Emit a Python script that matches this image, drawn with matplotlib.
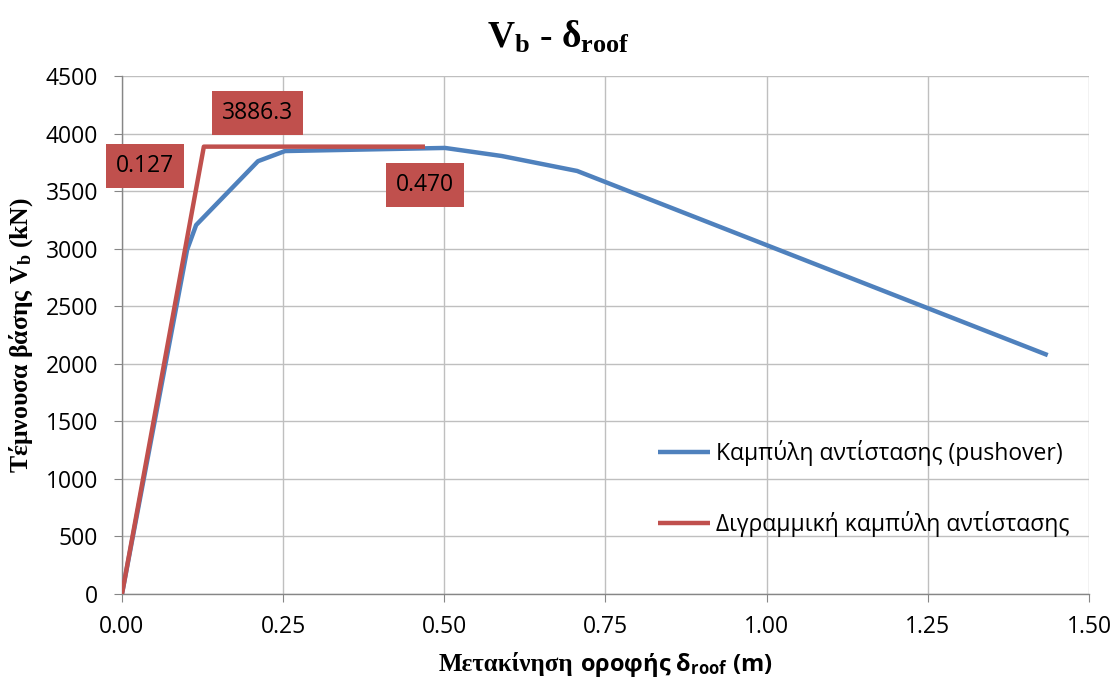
import numpy as np
import matplotlib.pyplot as plt

# pushover curve
pushDisp = [0.0, 0.101, 0.115, 0.211, 0.253, 0.501, 0.589, 0.706, 1.436]
pushShear = [0, 2990, 3205, 3760, 3848, 3875, 3805, 3675, 2075]

# bilinear idealisation
biDisp = [0.0, 0.127, 0.470]
biShear = [0, 3886.3, 3886.3]

labelName = ["Καμπύλη αντίστασης (pushover)", "Διγραμμική καμπύλη αντίστασης"]
xTicks = [0.0, 0.25, 0.5, 0.75, 1.0, 1.25, 1.5]
yTicks = np.arange(0, 4501, 500)

plt.rcParams['font.family'] = ['Open Sans', 'DejaVu Sans']
plt.rcParams['mathtext.fontset'] = 'custom'
plt.rcParams['mathtext.rm'] = 'Liberation Serif:bold'
plt.rcParams['mathtext.bf'] = 'Liberation Serif:bold'
plt.rcParams['mathtext.it'] = 'Liberation Serif:italic:bold'
plt.rcParams['mathtext.sf'] = 'Open Sans:bold'

blue = '#4F81BD'
red = '#C0504D'
gridCol = '#BFBFBF'
W, H = 1116, 681

fig = plt.figure(figsize=(W / 100, H / 100), dpi=100)
ax = fig.add_axes([0.1093, 0.1278, 0.8665, 0.7606])

ax.plot(pushDisp, pushShear, '-', color=blue, lw=3.2, label=labelName[0], solid_capstyle='butt', zorder=3)
ax.plot(biDisp, biShear, '-', color=red, lw=3.2, label=labelName[1], solid_capstyle='butt', zorder=4)

ax.set_xlim(0, 1.5)
ax.set_ylim(0, 4500)
ax.set_xticks(xTicks)
ax.set_xticklabels(["%.2f" % v for v in xTicks])
ax.set_yticks(yTicks)
ax.grid(True, color=gridCol, lw=1.0, zorder=0)
ax.set_axisbelow(True)
for s in ['top', 'right']:
    ax.spines[s].set_visible(False)
for s in ['left', 'bottom']:
    ax.spines[s].set_color('#868686')
    ax.spines[s].set_linewidth(1.0)
ax.tick_params(axis='both', direction='out', length=6, color='#868686', labelsize=16.5)
ax.tick_params(axis='y', pad=11)
ax.tick_params(axis='x', pad=9)

# data labels
box = dict(boxstyle='square,pad=0.42', fc=red, ec='none')
ax.annotate("%.1f" % biShear[1], (biDisp[1], biShear[1]), xytext=(0.210, 4179),
            ha='center', va='center', fontsize=16.5, bbox=box, annotation_clip=False)
ax.annotate("%.3f" % biDisp[1], (biDisp[1], biShear[1]), xytext=(0.036, 3718),
            ha='center', va='center', fontsize=16.5, bbox=box, annotation_clip=False)
ax.annotate("%.3f" % biDisp[2], (biDisp[2], biShear[2]), xytext=(0.470, 3553),
            ha='center', va='center', fontsize=16.5, bbox=box, annotation_clip=False)

fig.text(0.5, 1 - 48 / H, r"$\mathbf{V_b}$ - $\mathbf{δ_{roof}}$", fontsize=27,
         family='Liberation Serif', fontweight='bold', ha='center', va='baseline')
ax.set_ylabel(r"Τέμνουσα βάσης $\mathbf{V_b}$ (kN)", fontsize=18.5, fontweight='bold',
              family='Liberation Serif', labelpad=8)

# x label: first word serif, rest sans
r = fig.canvas.get_renderer()
t1 = fig.text(0, 0, "Μετακίνηση", fontsize=18, fontweight='bold', family='Liberation Serif', va='baseline')
t2 = fig.text(0, 0, r"οροφής $\mathsf{δ_{roof}}$ (m)", fontsize=17, fontweight='bold', va='baseline')
w1 = t1.get_window_extent(r).width
w2 = t2.get_window_extent(r).width
gap = 6
x1 = 605.5 - (w1 + gap + w2) / 2
yb = (H - 671) / H
t1.set_position((x1 / W, yb))
t2.set_position(((x1 + w1 + gap) / W, yb))

leg = ax.legend(loc='upper left', bbox_to_anchor=(0.554, 0.298), frameon=False, fontsize=16.5,
                handlelength=2.3, handletextpad=0.25, labelspacing=1.98,
                borderpad=0, borderaxespad=0)

fig.savefig("out.png", dpi=100)
plt.close()
